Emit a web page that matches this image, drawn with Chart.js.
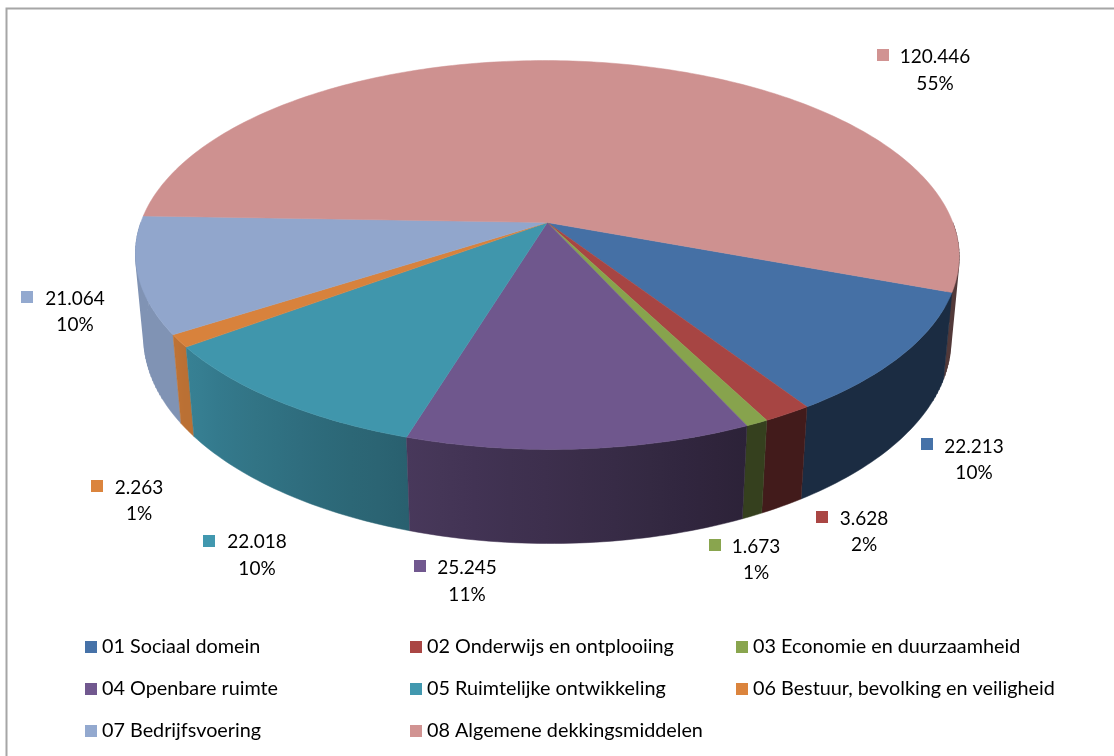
<!DOCTYPE html>
<html><head><meta charset="utf-8">
<style>html,body{margin:0;padding:0;background:#fff}canvas{display:block}</style>
<script src="https://cdn.jsdelivr.net/npm/chart.js@4"></script>
</head><body>
<canvas id="c" width="1114" height="756"></canvas>
<script>
const categories = ['01 Sociaal domein','02 Onderwijs en ontplooiing','03 Economie en duurzaamheid','04 Openbare ruimte','05 Ruimtelijke ontwikkeling','06 Bestuur, bevolking en veiligheid','07 Bedrijfsvoering','08 Algemene dekkingsmiddelen'];
const values = [22213,3628,1673,25245,22018,2263,21064,120446];
const valueLabels = ['22.213','3.628','1.673','25.245','22.018','2.263','21.064','120.446'];
const percentLabels = ['10%','2%','1%','11%','10%','1%','10%','55%'];
const colors = ['#4672a8','#aa4644','#89a54e','#71588f','#4198af','#db843d','#93a9cf','#d19392'];

// label anchor: marker left/top, text centre x, line centre ys
const labelBoxes = [[921,438,974,447,473],[816,511,864,519,545],[709,539,756,547,573],[414,560,467,568,595],[203,535,257,542,569],[91,480,139,488,514],[21,291,75,299,325],[877,49,935,57,84]];
const legendCols = [85,410,736], legendRows = [647,689,731];
const LABEL_FONT = '19px Lato, "Open Sans", sans-serif';
const LEGEND_FONT = '19.8px Lato, "Open Sans", sans-serif';

// perspective of the pie
const P = {cx:546.8, cy:222.5, A:406, B:189, k:0.1671, m:0.02, n:84.8, s:3};
function proj(t, low){
  const u=Math.cos(t), v=Math.sin(t), w=1-P.k*v+(low?P.m:0);
  return [P.cx+(P.A*u+P.s*v)/w, P.cy+(P.B*v+(low?P.n:0))/w];
}
function rgb(h){return [1,3,5].map(i=>parseInt(h.substr(i,2),16));}
function shade(h,s){return 'rgb('+rgb(h).map(c=>Math.round(c*s)).join(',')+')';}
function wallShade(t){
  let d=((t*180/Math.PI)%360+360)%360;
  if(d>200) return 0.39;
  if(d<66) return 0.39;
  if(d>147) return 0.87;
  return 0.39+(d-66)*0.0059;
}
function wallPaint(c,i,a,b){
  const x0=proj(a)[0], x1=proj(b)[0];
  if(Math.abs(x1-x0)<1) return shade(colors[i],wallShade((a+b)/2));
  const g=c.createLinearGradient(x0,0,x1,0);
  let last=0;
  for(let j=0;j<=10;j++){
    const t=a+(b-a)*j/10;
    const f=Math.min(1,Math.max(last,(proj(t)[0]-x0)/(x1-x0)));
    last=f;
    g.addColorStop(f,shade(colors[i],wallShade(t)));
  }
  return g;
}
const pie3d = {
  id:'pie3d',
  beforeDraw(chart){
    const c=chart.ctx; c.save();
    c.fillStyle='#fff'; c.fillRect(0,0,chart.width,chart.height);
    c.strokeStyle='#a6a6a6'; c.lineWidth=2;
    c.beginPath(); c.moveTo(6.5,chart.height+2); c.lineTo(6.5,8.5); c.lineTo(chart.width+2,8.5); c.stroke();
    c.restore();
  },
  beforeDatasetDraw(chart){
    const c=chart.ctx, arcs=chart.getDatasetMeta(0).data, step=Math.PI/180;
    const walls=[];
    arcs.forEach((el,i)=>{
      const {startAngle:s,endAngle:e}=el.getProps(['startAngle','endAngle'],true);
      [-2*Math.PI,0,2*Math.PI].forEach(o=>{
        const a=Math.max(s,o), b=Math.min(e,o+Math.PI);
        if(b>a) walls.push({a,b,i});
      });
    });
    walls.sort((p,q)=>Math.sin((p.a+p.b)/2)-Math.sin((q.a+q.b)/2));
    c.save(); c.lineJoin='round';
    walls.forEach(g=>{
      const n=Math.max(2,Math.ceil((g.b-g.a)/step));
      c.beginPath();
      for(let j=0;j<=n;j++){const q=proj(g.a+(g.b-g.a)*j/n); j?c.lineTo(q[0],q[1]):c.moveTo(q[0],q[1]);}
      for(let j=n;j>=0;j--){const q=proj(g.a+(g.b-g.a)*j/n,true); c.lineTo(q[0],q[1]);}
      c.closePath();
      const paint=wallPaint(c,g.i,g.a,g.b);
      c.fillStyle=paint; c.strokeStyle=paint; c.lineWidth=0.5; c.fill(); c.stroke();
      // side silhouette: sweep the vertical edges near the tangent points
      c.beginPath();
      for(let j=1;j<n;j++){
        const t=g.a+(g.b-g.a)*j/n;
        if(Math.sin(t)<0.45){const p=proj(t),q=proj(t,true); c.moveTo(p[0],p[1]); c.lineTo(q[0],q[1]);}
      }
      c.lineWidth=1.2; c.stroke();
    });
    arcs.forEach((el,i)=>{
      const {startAngle:s,endAngle:e}=el.getProps(['startAngle','endAngle'],true);
      const n=Math.max(2,Math.ceil((e-s)/step));
      const col=shade(colors[i],0.985);
      c.beginPath(); c.moveTo(P.cx+0.5,P.cy);
      for(let j=0;j<=n;j++){const q=proj(s+(e-s)*j/n); c.lineTo(q[0],q[1]);}
      c.closePath(); c.fillStyle=col; c.strokeStyle=col; c.lineWidth=0.5; c.fill(); c.stroke();
    });
    c.restore();
    return false;
  },
  afterDraw(chart){
    const c=chart.ctx; c.save();
    c.fillStyle='#000'; c.textBaseline='middle';
    c.font=LABEL_FONT;
    labelBoxes.forEach((b,i)=>{
      c.fillStyle=colors[i]; c.fillRect(b[0],b[1],12,12);
      c.fillStyle='#000'; c.textAlign='center';
      c.fillText(valueLabels[i],b[2],b[3]); c.fillText(percentLabels[i],b[2],b[4]);
    });
    c.textAlign='left'; c.font=LEGEND_FONT;
    categories.forEach((t,i)=>{
      const x=legendCols[i%3], y=legendRows[Math.floor(i/3)];
      c.fillStyle=colors[i]; c.fillRect(x,y-6,12,12);
      c.fillStyle='#000'; c.fillText(t,x+17,y);
    });
    c.restore();
  }
};
new Chart(document.getElementById('c'),{
  type:'pie',
  data:{labels:categories,datasets:[{data:values,backgroundColor:colors,borderWidth:0}]},
  options:{responsive:false,animation:false,rotation:110.4,
    plugins:{legend:{display:false},tooltip:{enabled:false}}},
  plugins:[pie3d]
});
</script>
</body></html>
